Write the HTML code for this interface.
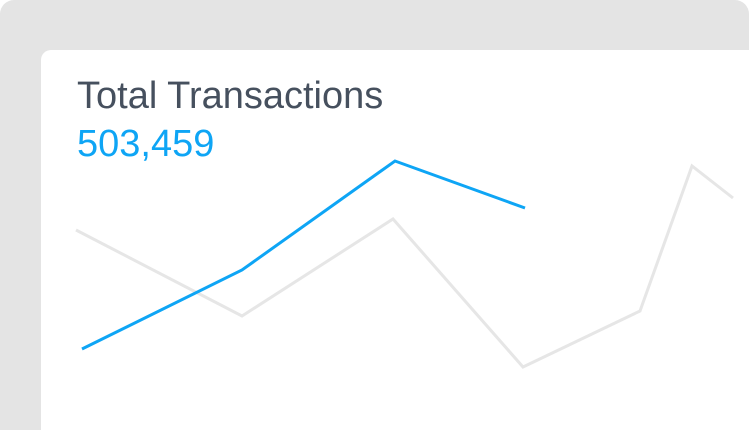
<!DOCTYPE html>
<html><head><meta charset="utf-8"><style>
html,body{margin:0;padding:0;background:#fff;}
body{width:749px;height:430px;position:relative;overflow:hidden;font-family:"Liberation Sans",Helvetica,Arial,sans-serif;}
#bg{position:absolute;left:0;top:0;width:749px;height:430px;background:#e4e4e4;border-radius:14px 14px 0 0;}
#card{position:absolute;left:41px;top:50px;width:708px;height:380px;background:#fff;border-radius:10px 0 0 0;}
#title{position:absolute;left:77px;top:74px;font-size:38px;line-height:44px;color:#46505e;}
#value{position:absolute;left:77px;top:122px;font-size:38px;line-height:44px;color:#0ea5f5;}
svg{position:absolute;left:0;top:0;}
</style></head><body>
<div id="bg"></div>
<div id="card"></div>
<div id="title">Total Transactions</div>
<div id="value">503,459</div>
<svg id="chart" width="749" height="430"></svg>
<script>
const currentX = [6, 166, 319, 449];
const currentValues = [51, 130, 239, 192];
const previousX = [0, 166, 317, 447, 564, 616, 657];
const previousValues = [170, 84, 181, 33, 89, 234, 202];
function xs(v){return 76 + v;}
function ys(v){return 400 - v;}
const svg=document.getElementById('chart');
function line(xv,vals,color,name){
  const p=document.createElementNS('http://www.w3.org/2000/svg','polyline');
  p.setAttribute('points',vals.map((v,i)=>xs(xv[i])+','+ys(v)).join(' '));
  p.setAttribute('fill','none');p.setAttribute('stroke',color);p.setAttribute('stroke-width','3');
  p.setAttribute('stroke-linejoin','miter');
  
  
  svg.appendChild(p);
}
line(previousX,previousValues,'#e6e6e6','previous-period-line');
line(currentX,currentValues,'#0ea5f5','current-period-line');
</script>
</body></html>
